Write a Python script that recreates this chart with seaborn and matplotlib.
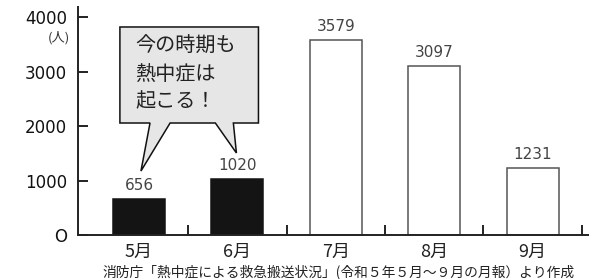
import matplotlib
matplotlib.use('Agg')
import matplotlib.pyplot as plt
import seaborn as sns
from matplotlib.patches import Polygon

months = ['5月', '6月', '7月', '8月', '9月']
cases = [656, 1020, 3579, 3097, 1231]
bar_colors = ['#141414', '#141414', 'white', 'white', 'white']
y_ticks = [0, 1000, 2000, 3000, 4000]
y_tick_labels = ['O', '1000', '2000', '3000', '4000']
bubble_lines = ['今の時期も', '熱中症は', '起こる！']
source_note = '消防庁「熱中症による救急搬送状況」(令和５年５月～９月の月報）より作成'

sns.set_style('white')
plt.rcParams['font.family'] = ['DejaVu Sans', 'Noto Sans CJK JP']
jp = ['Noto Sans CJK JP', 'DejaVu Sans']

fig = plt.figure(figsize=(5.89, 2.79), dpi=100)
ax = fig.add_axes([0.1324, 0.1577, 0.8676, 0.8165])

sns.barplot(x=months, y=cases, hue=months, palette=bar_colors, legend=False,
            width=0.53, ax=ax, edgecolor='#141414', linewidth=1.1)
for p, c in zip(ax.patches, bar_colors):
    if c == 'white':
        p.set_edgecolor('#555555')

for i, v in enumerate(cases):
    ax.annotate(str(v), (i, v), xytext=(0, 9.7), textcoords='offset points',
                ha='center', va='center', fontsize=11, color='#444444')

ax.set_xlim(-0.62, 4.573)
ax.set_ylim(0, 4180)
ax.set_yticks(y_ticks)
ax.set_yticklabels(y_tick_labels, fontsize=12, color='#111111')
ax.set_xticks(range(len(months)))
ax.set_xticklabels(months, fontsize=13, family=jp, color='#222222')
ax.set_xticks([i + 0.5 for i in range(len(months))], minor=True)
ax.tick_params(axis='y', direction='in', length=7, width=1.4, pad=8, color='#222222', left=True)
ax.tick_params(axis='x', which='major', length=0, pad=6)
ax.tick_params(axis='x', which='minor', direction='in', length=7, width=1.4,
               color='#222222', bottom=True)
ax.set_xlabel('')
ax.set_ylabel('')
sns.despine(ax=ax)
for s in ['left', 'bottom']:
    ax.spines[s].set_linewidth(1.4)
    ax.spines[s].set_color('#222222')

ax.text(-0.70, 3615, '(人)', fontsize=9.5, family=jp, ha='right', va='center',
        color='#333333', clip_on=False)

# speech bubble
bubble = [(-0.194, 3817), (1.214, 3817), (1.214, 2055), (0.959, 2055),
          (0.990, 1505), (0.776, 2055), (0.316, 2055), (0.020, 1174),
          (0.112, 2055), (-0.194, 2055)]
ax.add_patch(Polygon(bubble, closed=True, facecolor='#e6e6e6', edgecolor='#111111',
                     linewidth=1.1, zorder=5))
for k, line in enumerate(bubble_lines):
    ax.text(-0.04, 3454 - k * 505, line, fontsize=14.5, family=jp, ha='left',
            va='center', color='#222222', zorder=6)

fig.text(102 / 589, 1 - 272 / 279, source_note, fontsize=9.9, family=jp,
         ha='left', va='center', color='#222222')

fig.savefig('out.png', dpi=100)
